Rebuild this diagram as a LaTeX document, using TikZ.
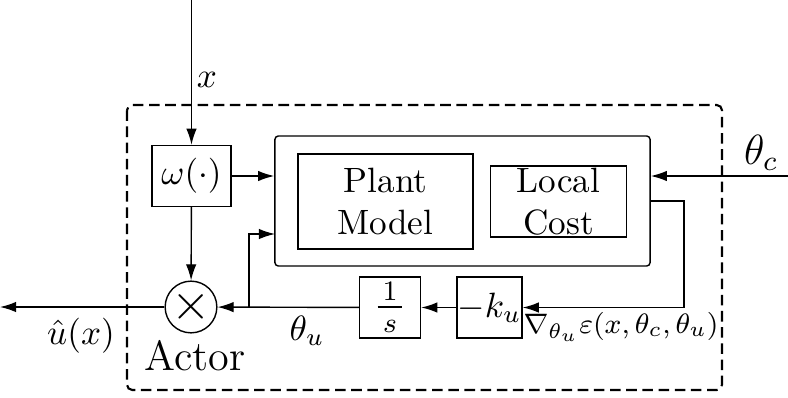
\documentclass[tikz,border=0pt]{standalone}
\usetikzlibrary{calc,arrows.meta}

\begin{document}
\begin{tikzpicture}[x=0.01cm,y=-0.01cm]
	\tikzset{>={Latex[length=4.6pt,width=3pt]}}
	\tikzset{blk/.style={draw,inner sep=0pt,align=center}}

  \useasboundingbox (0,0) rectangle (788,397);

  % actor frame
  \draw[semithick,dash pattern=on 3pt off 1.6pt,rounded corners=1.5pt] (127,105) rectangle (722,390);

  \node[blk,minimum width=0.79cm,minimum height=0.61cm] (omega) at (191.5,176) {$\omega(\cdot)$};
  \node[blk,rounded corners=1pt,minimum width=3.75cm,minimum height=1.30cm] (sys) at (462.5,201) {};
  \node[blk,minimum width=1.75cm,minimum height=0.95cm] (plant) at (385.5,201.5) {Plant\\Model};
  \node[blk,minimum width=1.36cm,minimum height=0.71cm] (cost) at (558.5,201.5) {Local\\Cost};
  \node[draw,circle,inner sep=0pt,minimum size=0.51cm] (mult) at (191,307) {\Large$\times$};
  \node[blk,minimum width=0.61cm,minimum height=0.61cm] (inv) at (390,307.5) {\fontsize{11.5}{13}\selectfont$\frac{\,1\,}{s}$};
  \node[blk,minimum width=0.65cm,minimum height=0.61cm] (gain) at (489.5,307.5) {$-k_u$};

  \coordinate (xin) at (191.5,0);
  \coordinate (thin) at (788,176);
  \coordinate (uout) at (0,307);
  \coordinate (br) at (249,307);
  \coordinate (fb) at (275,234);
  \coordinate (cout) at (650,201);
  \coordinate (turn) at (684,201);

  \draw[->] (xin) -- (omega);
  \draw[->] (omega) -- (sys.west |- omega);
  \draw[->] (omega) -- (mult);
  \draw[->] (thin) -- (sys.east |- thin);
  \draw[->] (mult) -- (uout);
  \draw[->] (inv) -- (mult);
  \draw[->] (br) |- (fb);
  \draw[->] (gain) -- (inv);
  \draw[->] (cout) -- (turn) |- (gain);

  \node (xlab) at (207,80) {$x$};
  \node (thc) at (761,153) {\large$\theta_c$};
  \node (thu) at (307,331) {$\theta_u$};
  \node (uhat) at (81,336) {$\hat{u}(x)$};
  \node (actor) at (195,356) {\large Actor};
  \node (grad) at (621,327) {\fontsize{8.5}{10}\selectfont$\nabla_{\theta_u}\varepsilon(x,\theta_c,\theta_u)$};

\end{tikzpicture}
\end{document}
